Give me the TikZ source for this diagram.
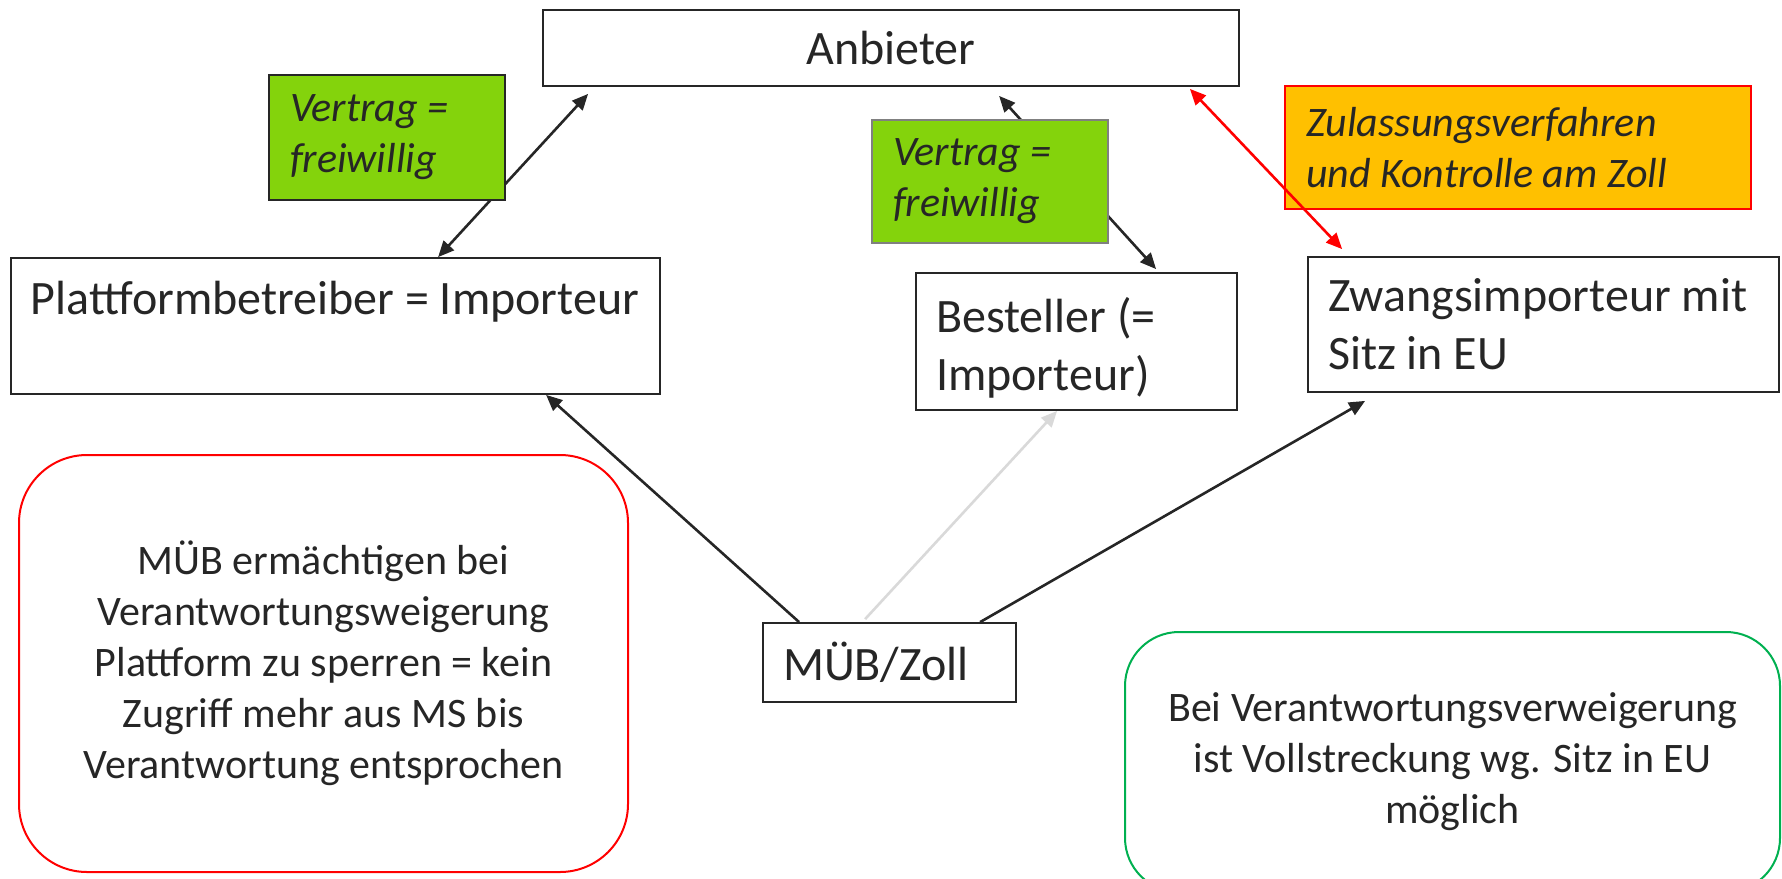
\documentclass[tikz,border=0pt]{standalone}
\usepackage{fontspec}
\setmainfont{Carlito}
\usepackage{tikz}
\usetikzlibrary{arrows.meta}

\definecolor{ink}{HTML}{262626}
\definecolor{grasgruen}{HTML}{84D30C}
\definecolor{orangegelb}{HTML}{FFC000}
\definecolor{hellgrau}{HTML}{D9D9D9}
\definecolor{rahmengruen}{HTML}{00B050}

\begin{document}
\begin{tikzpicture}[x=0.5pt,y=-0.5pt]
	\clip (0,0) rectangle (1782,878);
	\begin{scope}[every node/.style={draw=ink,line width=0.9pt,rectangle,inner xsep=10pt,inner ysep=0pt,
	                                 align=flush left,text=ink,font=\fontsize{24}{29}\selectfont}]
		\node[minimum width=348pt,minimum height=38pt,align=flush center] (anb) at (891,48) {Anbieter};
		\node[text width=304.5pt,minimum height=68pt] (platt) at (335.5,326) {\mbox{Plattformbetreiber = Importeur}\\[-10pt]\strut};
		\node[text width=140.5pt,minimum height=68.5pt] (best) at (1076.5,341.5) {\rule{0pt}{24pt}Besteller (=\\Importeur)};
		\node[text width=215.5pt,minimum height=67.5pt] (zwang) at (1543.5,324.5) {Zwangsimporteur mit\\Sitz in EU};
		\node[text width=106.5pt,minimum height=39.5pt] (mub) at (889.5,662.5) {MÜB/Zoll};
	\end{scope}
	
	\begin{scope}[every node/.style={line width=1pt,inner sep=0pt,align=flush center,
	                                 text=ink,font=\fontsize{21}{25.5}\selectfont}]
		\node[draw=red,rounded corners=34pt,minimum width=304.5pt,minimum height=208.5pt] (sperr) at (323.5,663.5)
			{MÜB ermächtigen bei\\Verantwortungsweigerung\\Plattform zu sperren = kein\\Zugriff mehr aus MS bis\\Verantwortung entsprochen};
		\node[draw=rahmengruen,rounded corners=27pt,minimum width=327.5pt,minimum height=130pt] (vollstr) at (1452.5,762)
			{Bei Verantwortungsverweigerung\\ist Vollstreckung wg. Sitz in EU\\möglich};
	\end{scope}
	
	\begin{scope}[>={Triangle[length=8pt,width=7pt]},line width=1.3pt]
		\draw[ink,<->] ([xshift=214pt]platt.north west) -- ([xshift=23pt,yshift=-3.5pt]anb.south west);
		\draw[ink,<->] ([xshift=228.5pt,yshift=-4.5pt]anb.south west) -- ([xshift=120.5pt,yshift=1.5pt]best.north west);
		\draw[ink,->] ([xshift=18.5pt]mub.north west) -- ([xshift=268pt]platt.south west);
		\draw[hellgrau,->] ([xshift=51.5pt,yshift=1.5pt]mub.north west) -- ([xshift=71pt]best.south west);
		\draw[ink,->] ([xshift=109pt]mub.north west) -- ([xshift=29pt,yshift=-4pt]zwang.south west);
	\end{scope}
	
	\begin{scope}[every node/.style={line width=1pt,rectangle,inner xsep=10.5pt,inner ysep=0pt,align=flush left,
	                                 text=ink,font=\fontsize{21}{25.5}\selectfont\itshape}]
		\node[draw=ink,fill=grasgruen,text width=97pt,minimum height=62.5pt] (vertrag1) at (387,137.5) {Vertrag =\\freiwillig};
		\node[draw=gray,fill=grasgruen,text width=97pt,minimum height=61.5pt] (vertrag2) at (990,181.5) {Vertrag =\\freiwillig};
		\node[draw=red,fill=orangegelb,text width=212pt,minimum height=61.5pt] (zulass) at (1518,147.5) {Zulassungsverfahren\\und Kontrolle am Zoll};
	\end{scope}
	
	\draw[red,line width=1.3pt,<->,>={Triangle[length=8pt,width=7pt]}]
		([xshift=-25pt,yshift=-1pt]anb.south east) -- ([xshift=17.5pt,yshift=3.5pt]zwang.north west);
\end{tikzpicture}
\end{document}
